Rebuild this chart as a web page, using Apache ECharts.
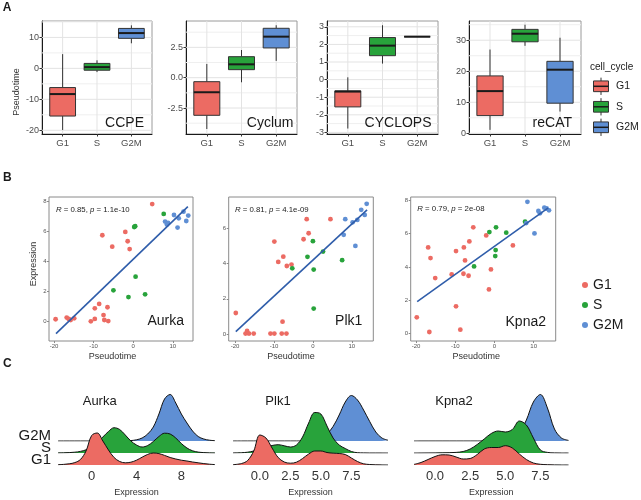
<!DOCTYPE html>
<html>
<head>
<meta charset="utf-8">
<script src="https://cdn.jsdelivr.net/npm/echarts@6.0.0/dist/echarts.min.js"></script>
<style>html,body{margin:0;padding:0;background:#fff;}#chart{width:641px;height:500px;}</style>
</head>
<body>
<div id="chart"></div>
<script>
// ================= DATA =================
const phases = ['G1', 'S', 'G2M'];
const phaseColors = ['#EC6B63', '#28A33B', '#5F8FD4'];

// ---- Panel A: boxplots, each row = [lower whisker, Q1, median, Q3, upper whisker] for G1, S, G2M
const methods = ['CCPE', 'Cyclum', 'CYCLOPS', 'reCAT'];
const boxCCPE    = [[-19.9, -15.4, -8.3, -6.2, 4.6], [-1.2, -0.6, 0.4, 1.6, 2.6], [8.1, 9.7, 11.4, 12.9, 13.9]];
const boxCyclum  = [[-4.23, -3.1, -1.2, -0.33, 1.13], [-0.38, 0.66, 1.1, 1.73, 2.28], [1.38, 2.45, 3.38, 4.07, 4.32]];
const boxCYCLOPS = [[-2.78, -1.55, -0.68, -0.64, 0.13], [0.91, 1.36, 1.93, 2.39, 3.09], [2.44, 2.44, 2.44, 2.44, 2.44]];
const boxReCAT   = [[1.1, 5.7, 13.6, 18.5, 27], [28.2, 29.5, 32.1, 33.5, 35], [7, 9.7, 20.5, 23.2, 30.8]];
const ticksCCPE    = [-20, -10, 0, 10];
const ticksCyclum  = [-2.5, 0, 2.5];
const ticksCYCLOPS = [-3, -2, -1, 0, 1, 2, 3];
const ticksReCAT   = [0, 10, 20, 30];

// ---- Panel B: expression vs pseudotime, [pseudotime, expression]
const genes = ['Aurka', 'Plk1', 'Kpna2'];
const aurkaG1 = [[-19.6,0.16],[-16.8,0.27],[-16.3,0.18],[-15.8,0.11],[-14.9,0.22],[-10.7,0.02],[-9.7,0.18],[-9.7,0.89],[-8.6,1.18],[-7.5,0.44],[-7.3,0.11],[-6.5,0.96],[-6.3,0.04],[-7.8,5.76],[-5.3,5.0],[-2.0,5.98],[-1.4,5.36],[-0.9,4.84],[4.8,7.84]];
const aurkaS = [[-5.0,2.09],[-1.2,1.64],[0.6,3.0],[0.25,6.31],[0.5,6.36],[3.0,1.82],[7.7,7.18]];
const aurkaG2M = [[8.05,6.67],[8.5,6.47],[8.8,6.58],[10.3,7.11],[11.2,6.27],[11.5,6.89],[12.7,7.33],[13.4,6.71],[13.9,7.07]];
const plk1G1 = [[-19.8,1.19],[-16.9,0.17],[-16.8,0.06],[-17.3,0.02],[-16.4,0.02],[-15.2,0.02],[-10.9,0.02],[-9.9,0.02],[-8.0,0.02],[-6.8,0.02],[-7.8,0.70],[-9.9,5.25],[-8.9,4.09],[-7.6,4.39],[-6.7,3.86],[-5.5,3.94],[-2.4,5.38],[-1.6,6.52],[-1.1,5.72],[4.5,6.52]];
const plk1S = [[-5.3,3.73],[-1.4,4.38],[0.0,5.27],[0.2,3.66],[0.2,1.44],[2.6,4.68],[7.5,4.19]];
const plk1G2M = [[7.9,5.63],[8.3,6.52],[10.2,6.34],[11.4,6.48],[10.9,5.0],[12.4,7.05],[13.3,6.76],[13.8,7.39]];
const kpna2G1 = [[-19.8,0.98],[-16.6,0.10],[-16.9,5.17],[-16.3,4.53],[-15.1,3.33],[-10.9,3.55],[-9.8,4.95],[-9.8,1.64],[-8.7,0.24],[-7.8,5.17],[-7.5,4.39],[-7.9,3.59],[-6.6,3.47],[-6.4,5.53],[-5.4,6.37],[-2.1,5.89],[-0.9,3.85],[-1.4,2.65],[4.7,5.29]];
const kpna2S = [[-5.2,4.03],[-1.3,6.09],[0.4,6.37],[3.0,6.05],[0.3,5.01],[0.2,4.65],[7.8,6.71]];
const kpna2G2M = [[8.1,6.63],[8.4,7.9],[10.2,6.01],[11.2,7.35],[11.6,7.21],[12.7,7.55],[13.3,7.5],[13.9,7.39]];
// fitted regression lines (end points)
const fitAurka = [[-19.5, -0.8], [13.8, 7.67]];
const fitPlk1  = [[-19.8, 0.13], [13.9, 7.05]];
const fitKpna2 = [[-19.7, 1.92], [13.7, 7.54]];
const corR = ['0.85', '0.81', '0.79'];
const corP = ['1.1e-10', '4.1e-09', '2e-08'];
const pseudoTicks = [-20, -10, 0, 10];
const exprTicksAurka = [0, 2, 4, 6, 8];
const exprTicksPlk1  = [0, 2, 4, 6];
const exprTicksKpna2 = [0, 2, 4, 6, 8];

// ---- Panel C: ridgeline densities (scaled density) sampled at expression values
const ridgeXAurka = [-3,-2.5,-2,-1.5,-1,-0.5,0,0.5,1,1.5,2,2.5,3,3.5,4,4.5,5,5.5,6,6.5,7,7.5,8,8.5,9,9.5,10,10.5,11];
const ridgeAurkaG1  = [0.3,0.6,1.2,2.4,5.5,14,29.5,32,24,15,7.5,3.5,2.2,2.8,4.8,7.8,10.6,12,11.4,9.6,7.5,6,4.8,4,3,2.2,1.4,0.8,0.4];
const ridgeAurkaS   = [0.1,0.2,0.4,0.8,1.6,3.2,6,10.5,16,21.5,25.3,23.5,18,12,8,6,7.5,11.5,16.5,19.8,19,15,9.5,5,2.2,0.9,0.4,0.15,0.05];
const ridgeAurkaG2M = [0,0,0,0,0,0,0,0,0,0,0,0.05,0.1,0.4,1.2,3,7,14,27,42,46.5,38,27,18,10,4.5,2,0.8,0.3];
const ridgeXPlk1 = [-2.2,-1.5,-1,-0.5,0,0.5,1,1.5,2,2.5,3,3.5,4,4.5,5,5.5,6,6.5,7,7.5,8,8.5,9,9.5,10,10.5];
const ridgePlk1G1  = [0.3,1.5,4.5,14,30,27,17,7.5,3,1.8,2.8,6.5,11,14,14,12.5,11.8,11.5,10.5,7,3.5,1.2,0.5,0.2,0.1,0.05];
const ridgePlk1S   = [0.1,0.3,0.8,2,4,6,7.5,8.3,7.2,6,8,16,30,40.5,39,27,15,8,4.5,1.5,0.3,0.1,0,0,0,0];
const ridgePlk1G2M = [0,0,0,0,0,0,0,0,0,0,0,0,0.3,1,3,7,14.5,26,39,45.5,41,31,19.5,9,3,0.8];
const ridgeXKpna2 = [-1.5,-1,-0.5,0,0.5,1,1.5,2,2.5,3,3.5,4,4.5,5,5.5,6,6.5,7,7.5,8,8.5,9,9.5];
const ridgeKpna2G1  = [0.6,2.5,5.5,8.5,10.2,10,8,6,6.5,10.5,16,17.5,17.5,19.3,17,11,5.5,2,0.7,0.3,0.1,0.03,0.01];
const ridgeKpna2S   = [0,0,0.05,0.1,0.2,0.3,0.6,1.5,4,8.5,14,19.5,22,21,23.5,32,28,15,3,0.6,0.1,0,0];
const ridgeKpna2G2M = [0,0,0,0,0,0,0,0,0,0,0,0,0.3,1,3,8.5,21,39,46.5,33,12,3,0.6];
const ridgeTicksAurka = [0, 4, 8];
const ridgeTicksPlk1  = [0, 2.5, 5, 7.5];
const ridgeTicksKpna2 = [0, 2.5, 5, 7.5];

// ================= LAYOUT / STYLE =================
const FONT = '"Liberation Sans", Arial, Helvetica, sans-serif';
const grids = [], xAxes = [], yAxes = [], series = [], graphics = [];

function addText(x, y, text, size, o) {
  o = o || {};
  const st = { text: text, fontSize: size, fontFamily: FONT, fontWeight: o.weight || 'normal',
    fill: o.color || '#1a1a1a', align: o.align || 'center', verticalAlign: 'middle' };
  if (o.rich) st.rich = o.rich;
  graphics.push({ type: 'text', x: x, y: y, rotation: o.rotation || 0, silent: true, z: 100, style: st });
}

// ---------- Panel A ----------
const LA = { top: 21, bottom: 134, boxWidth: 0.75, labelY: 123.5, xmin: 0.4, xmax: 3.6, panels: [
  { x0: 42,  x1: 152, ymin: -21.2, ymax: 15.3, labelRight: 144 },
  { x0: 186, x1: 297, ymin: -4.64, ymax: 4.67, labelRight: 293.5 },
  { x0: 327, x1: 438, ymin: -3.09, ymax: 3.33, labelRight: 431.5 },
  { x0: 469, x1: 581, ymin: -0.23, ymax: 36.2, labelRight: 572 } ] };
const boxSets = [boxCCPE, boxCyclum, boxCYCLOPS, boxReCAT];
const tickSets = [ticksCCPE, ticksCyclum, ticksCYCLOPS, ticksReCAT];
const tickDec = [0, 1, 0, 0];
const catPos = phases.map((_, i) => i + 1);

function minorTicks(t, lo, hi) {
  const step = t[1] - t[0], out = [];
  for (let v = t[0] - step / 2; v <= t[t.length - 1] + step / 2 + 1e-9; v += step) {
    if (v > lo && v < hi) out.push(+v.toFixed(4));
  }
  return out;
}
function gridLineSeries(g, pts, color) {
  series.push({ type: 'line', xAxisIndex: g, yAxisIndex: g, data: pts, symbol: 'none', silent: true, z: 1,
    lineStyle: { color: color, width: 1 }, animation: false });
}

LA.panels.forEach((p, k) => {
  const g = grids.length;
  grids.push({ left: p.x0, top: LA.top, width: p.x1 - p.x0, height: LA.bottom - LA.top, show: true,
    borderColor: '#9a9a9a', borderWidth: 1, containLabel: false, outerBoundsMode: 'none' });
  xAxes.push({ gridIndex: g, type: 'value', min: LA.xmin, max: LA.xmax,
    axisLine: { show: true, onZero: false, lineStyle: { color: '#1a1a1a', width: 1 } },
    axisTick: { show: true, customValues: catPos, length: 2.5, lineStyle: { color: '#333' } },
    axisLabel: { customValues: catPos, formatter: v => phases[Math.round(v) - 1], fontSize: 9.5, fontFamily: FONT, color: '#4d4d4d', margin: 4 },
    splitLine: { show: false } });
  const dec = tickDec[k];
  yAxes.push({ gridIndex: g, type: 'value', min: p.ymin, max: p.ymax,
    axisLine: { show: true, onZero: false, lineStyle: { color: '#1a1a1a', width: 1 } },
    axisTick: { show: true, customValues: tickSets[k], length: 2.5, lineStyle: { color: '#333' } },
    axisLabel: { customValues: tickSets[k], formatter: v => v.toFixed(dec), fontSize: 9, fontFamily: FONT, color: '#4d4d4d', margin: 3 },
    splitLine: { show: false } });
  // panel grid lines (major, minor, vertical at categories)
  minorTicks(tickSets[k], p.ymin, p.ymax).forEach(t => gridLineSeries(g, [[LA.xmin, t], [LA.xmax, t]], '#efefef'));
  tickSets[k].forEach(t => gridLineSeries(g, [[LA.xmin, t], [LA.xmax, t]], '#e3e3e3'));
  catPos.forEach(c => gridLineSeries(g, [[c, p.ymin], [c, p.ymax]], '#e3e3e3'));
  series.push({ type: 'custom', name: methods[k], xAxisIndex: g, yAxisIndex: g, z: 3,
    data: boxSets[k].map((b, i) => [i + 1].concat(b)),
    encode: { x: 0, y: [1, 2, 3, 4, 5] },
    renderItem: function (params, api) {
      const i = api.value(0);
      const pts = [1, 2, 3, 4, 5].map(d => api.coord([i, api.value(d)]));
      const x = pts[0][0];
      const hw = api.size([LA.boxWidth, 0])[0] / 2;
      const col = phaseColors[params.dataIndex];
      const stroke = '#333333';
      return { type: 'group', children: [
        { type: 'line', shape: { x1: x, y1: pts[0][1], x2: x, y2: pts[1][1] }, style: { stroke: stroke, lineWidth: 1 } },
        { type: 'line', shape: { x1: x, y1: pts[3][1], x2: x, y2: pts[4][1] }, style: { stroke: stroke, lineWidth: 1 } },
        { type: 'rect', shape: { x: x - hw, y: pts[3][1], width: 2 * hw, height: pts[1][1] - pts[3][1] }, style: { fill: col, stroke: stroke, lineWidth: 1 } },
        { type: 'line', shape: { x1: x - hw, y1: pts[2][1], x2: x + hw, y2: pts[2][1] }, style: { stroke: '#1a1a1a', lineWidth: 2 } }
      ] };
    } });
  addText(p.labelRight, LA.labelY, methods[k], 14, { align: 'right' });
});
addText(16.7, 92, 'Pseudotime', 9, { rotation: Math.PI / 2, color: '#333' });

// A legend (boxplot keys)
const LEGA = { x: 593.5, w: 15, y0: 86.3, dy: 20.5, boxH: 10.7, keyH: 17.3, textX: 616 };
addText(590, 67.5, 'cell_cycle', 10, { align: 'left' });
phases.forEach((ph, i) => {
  const cy = LEGA.y0 + i * LEGA.dy, cx = LEGA.x + LEGA.w / 2;
  graphics.push({ type: 'line', silent: true, shape: { x1: cx, y1: cy - LEGA.keyH / 2, x2: cx, y2: cy + LEGA.keyH / 2 }, style: { stroke: '#333', lineWidth: 1 } });
  graphics.push({ type: 'rect', silent: true, shape: { x: LEGA.x, y: cy - LEGA.boxH / 2, width: LEGA.w, height: LEGA.boxH }, style: { fill: phaseColors[i], stroke: '#333', lineWidth: 1 } });
  graphics.push({ type: 'line', silent: true, shape: { x1: LEGA.x, y1: cy, x2: LEGA.x + LEGA.w, y2: cy }, style: { stroke: '#1a1a1a', lineWidth: 1.5 } });
  addText(LEGA.textX, cy, ph, 10.5, { align: 'left' });
});

// ---------- Panel B ----------
const LB = { top: 197, bottom: 341, panels: [
  { x0: 49,    x1: 193,   xmin: -21.27, xmax: 15.1,  ymin: -1.29, ymax: 8.31, lab: [184, 321.5], cor: [56, 210], xt: 112.5 },
  { x0: 228.7, x1: 373.3, xmin: -21.62, xmax: 15.5,  ymin: -0.40, ymax: 7.78, lab: [362.3, 321.5], cor: [235, 210], xt: 291 },
  { x0: 410.7, x1: 555.7, xmin: -21.35, xmax: 15.61, ymin: -0.44, ymax: 8.19, lab: [546, 322], cor: [417.3, 208.5], xt: 476.3 } ] };
const scatterSets = [[aurkaG1, aurkaS, aurkaG2M], [plk1G1, plk1S, plk1G2M], [kpna2G1, kpna2S, kpna2G2M]];
const fitSets = [fitAurka, fitPlk1, fitKpna2];
const exprTickSets = [exprTicksAurka, exprTicksPlk1, exprTicksKpna2];

LB.panels.forEach((p, k) => {
  const g = grids.length;
  grids.push({ left: p.x0, top: LB.top, width: p.x1 - p.x0, height: LB.bottom - LB.top, show: true,
    borderColor: '#8a8a8a', borderWidth: 1, containLabel: false, outerBoundsMode: 'none' });
  xAxes.push({ gridIndex: g, type: 'value', min: p.xmin, max: p.xmax,
    axisLine: { show: false, onZero: false },
    axisTick: { show: true, customValues: pseudoTicks, length: 2, lineStyle: { color: '#8a8a8a' } },
    axisLabel: { customValues: pseudoTicks, fontSize: 6, fontFamily: FONT, color: '#555', margin: 2.5 },
    splitLine: { show: false } });
  yAxes.push({ gridIndex: g, type: 'value', min: p.ymin, max: p.ymax,
    axisLine: { show: false, onZero: false },
    axisTick: { show: true, customValues: exprTickSets[k], length: 2, lineStyle: { color: '#8a8a8a' } },
    axisLabel: { customValues: exprTickSets[k], fontSize: 6, fontFamily: FONT, color: '#555', margin: 2.5 },
    splitLine: { show: false } });
  phases.forEach((ph, i) => {
    series.push({ type: 'scatter', name: ph, xAxisIndex: g, yAxisIndex: g, data: scatterSets[k][i],
      symbol: 'circle', symbolSize: 4.8, itemStyle: { color: phaseColors[i], opacity: 1 }, z: 3, silent: true });
  });
  series.push({ type: 'line', name: 'fit' + k, xAxisIndex: g, yAxisIndex: g, data: fitSets[k], symbol: 'none',
    lineStyle: { color: '#2F5DAA', width: 1.6 }, z: 4, silent: true });
  addText(p.lab[0], p.lab[1], genes[k], 14, { align: 'right' });
  const rich = { i: { fontStyle: 'italic', fontSize: 7.8, fontFamily: FONT, fill: '#222' },
                 n: { fontSize: 7.8, fontFamily: FONT, fill: '#222' } };
  addText(p.cor[0], p.cor[1], '{i|R}{n| = ' + corR[k] + ', }{i|p}{n| = ' + corP[k] + '}', 7.8, { align: 'left', rich: rich, color: '#222' });
  addText(p.xt, 356.5, 'Pseudotime', 9, { color: '#333' });
});
addText(33.3, 264, 'Expression', 9, { rotation: Math.PI / 2, color: '#333' });

// ---------- Panel C ----------
const LC = { baselines: [465, 453, 441], height: 60, dmax: 60, panels: [
  { x0: 58,  x1: 215,   title: [99.7, 401] },
  { x0: 233, x1: 388,   title: [278, 401] },
  { x0: 414, x1: 568.5, title: [454, 401] } ] };
const ridgeX = [ridgeXAurka, ridgeXPlk1, ridgeXKpna2];
const ridgeY = [[ridgeAurkaG1, ridgeAurkaS, ridgeAurkaG2M], [ridgePlk1G1, ridgePlk1S, ridgePlk1G2M], [ridgeKpna2G1, ridgeKpna2S, ridgeKpna2G2M]];
const ridgeTicks = [ridgeTicksAurka, ridgeTicksPlk1, ridgeTicksKpna2];
const ridgeDec = [0, 1, 1];

LC.panels.forEach((p, k) => {
  const xs = ridgeX[k];
  [2, 1, 0].forEach((i, order) => {
    const g = grids.length;
    const base = LC.baselines[i];
    grids.push({ left: p.x0, top: base - LC.height, width: p.x1 - p.x0, height: LC.height, show: false, containLabel: false, outerBoundsMode: 'none' });
    const isBottom = i === 0;
    const dec = ridgeDec[k];
    xAxes.push({ gridIndex: g, type: 'value', min: xs[0], max: xs[xs.length - 1], show: isBottom,
      axisLine: { show: false, onZero: false }, axisTick: { show: false },
      axisLabel: { show: isBottom, customValues: ridgeTicks[k], formatter: v => v.toFixed(dec), fontSize: 13, fontFamily: FONT, color: '#333', margin: 5 },
      splitLine: { show: false } });
    yAxes.push({ gridIndex: g, type: 'value', min: 0, max: LC.dmax, show: false, splitLine: { show: false } });
    series.push({ type: 'line', name: genes[k] + '-' + phases[i], xAxisIndex: g, yAxisIndex: g,
      data: xs.map((x, j) => [x, ridgeY[k][i][j]]), smooth: 0.35, symbol: 'none', silent: true,
      lineStyle: { color: '#111', width: 1 },
      areaStyle: { color: phaseColors[i], opacity: 1, origin: 'start' },
      z: 5 + order });
  });
  addText(p.title[0], p.title[1], genes[k], 13);
  addText((p.x0 + p.x1) / 2, 493, 'Expression', 9, { color: '#333' });
});
// ridge row labels (left of Aurka)
phases.forEach((ph, i) => addText(51, LC.baselines[i] - 5, ph, 15, { align: 'right' }));

// panel letters
addText(2.7, 7.5, 'A', 12, { align: 'left', weight: 'bold' });
addText(3, 177.5, 'B', 12, { align: 'left', weight: 'bold' });
addText(3, 364, 'C', 12, { align: 'left', weight: 'bold' });

const option = {
  animation: false,
  backgroundColor: '#ffffff',
  grid: grids, xAxis: xAxes, yAxis: yAxes, series: series,
  legend: { data: phases, orient: 'vertical', left: 582, top: 278, icon: 'circle', itemWidth: 6, itemHeight: 6,
    itemGap: 6, selectedMode: false, padding: 0,
    textStyle: { fontSize: 14, fontFamily: FONT, color: '#1a1a1a', lineHeight: 14 } },
  graphic: { elements: graphics }
};
const chart = echarts.init(document.getElementById('chart'), null, { renderer: 'canvas' });
chart.setOption(option);
</script>
</body>
</html>
